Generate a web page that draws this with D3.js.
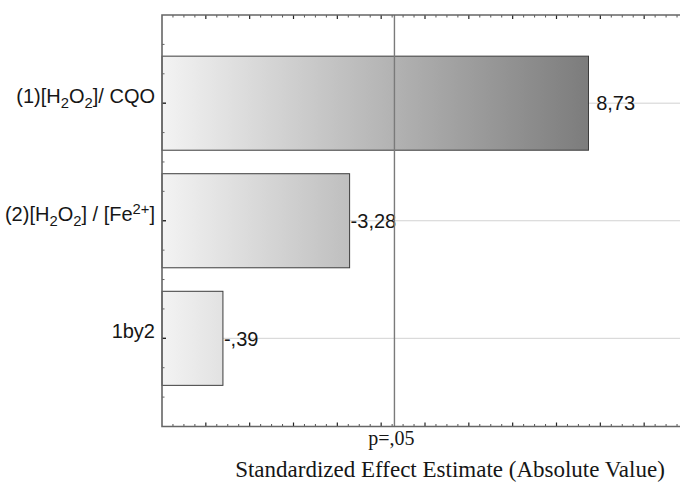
<!DOCTYPE html>
<html>
<head>
<meta charset="utf-8">
<script src="https://cdn.jsdelivr.net/npm/d3@7/dist/d3.min.js"></script>
<style>
  html, body { margin: 0; padding: 0; background: #fff; }
  svg { display: block; }
</style>
</head>
<body>
<svg id="chart" width="680" height="482"></svg>
<script>
// Pareto chart of standardized effects (absolute value)
const categories = ["(1)[H_2O_2]/ CQO", "(2)[H_2O_2] / [Fe^{2+}]", "1by2"];
const effects = [8.73, -3.28, -0.39];
const criticalT = 4.303;        // p = .05
const criticalLabel = "p=,05";
const axisTitle = "Standardized Effect Estimate (Absolute Value)";
const xDomain = [-1, 11];

const W = 680, H = 482;
const plot = { left: 162, top: 15, right: 688, bottom: 426.5 };
const sansSize = 20;

const svg = d3.select("#chart");

const x = d3.scaleLinear().domain(xDomain).range([plot.left, plot.right]);
const y = d3.scaleBand()
  .domain(categories)
  .range([plot.top, plot.bottom])
  .paddingInner(0.2)
  .paddingOuter(0.35);

// Statistica-style number text: comma decimal, no leading zero, ASCII minus
const fmt = v => {
  const s = Math.abs(v).toFixed(2).replace(".", ",").replace(/^0,/, ",");
  return (v < 0 ? "-" : "") + s;
};

// Gradient spans the whole plot width, so each bar darkens toward its end
const defs = svg.append("defs");
const grad = defs.append("linearGradient")
  .attr("id", "barGrad")
  .attr("gradientUnits", "userSpaceOnUse")
  .attr("x1", x(xDomain[0])).attr("x2", x(8.73))
  .attr("y1", 0).attr("y2", 0);
grad.append("stop").attr("offset", 0).attr("stop-color", "#f3f3f3");
grad.append("stop").attr("offset", 1).attr("stop-color", "#7c7c7c");

// Horizontal grid at category centres
svg.append("g")
  .selectAll("line")
  .data(categories)
  .join("line")
  .attr("x1", plot.left).attr("x2", W)
  .attr("y1", d => y(d) + y.bandwidth() / 2)
  .attr("y2", d => y(d) + y.bandwidth() / 2)
  .attr("stroke", "#d2d2d2")
  .attr("stroke-width", 1);

// Bars
svg.append("g")
  .selectAll("rect")
  .data(categories)
  .join("rect")
  .attr("x", x(xDomain[0]))
  .attr("y", d => y(d))
  .attr("width", (d, i) => x(Math.abs(effects[i])) - x(xDomain[0]))
  .attr("height", y.bandwidth())
  .attr("fill", "url(#barGrad)")
  .attr("stroke", "#3c3c3c")
  .attr("stroke-width", 1);

// Value labels (positive values leave room where the sign would sit)
svg.append("g")
  .selectAll("text")
  .data(categories)
  .join("text")
  .attr("x", (d, i) => x(Math.abs(effects[i])) + 1 + (effects[i] >= 0 ? sansSize * 0.333 : 0))
  .attr("y", d => y(d) + y.bandwidth() / 2)
  .attr("dy", "0.36em")
  .attr("font-family", "Liberation Sans, Arial, sans-serif")
  .attr("font-size", sansSize)
  .attr("fill", "#161616")
  .text((d, i) => fmt(effects[i]));

// Critical value line
svg.append("line")
  .attr("x1", x(criticalT)).attr("x2", x(criticalT))
  .attr("y1", plot.top).attr("y2", plot.bottom)
  .attr("stroke", "#7a7a7a")
  .attr("stroke-width", 1.4);

// Bottom and top axes: inward ticks, no labels
const major = d3.range(0, 11, 1);
const minor = d3.range(-0.75, 11, 0.25).filter(v => Math.abs(v - Math.round(v)) > 1e-9);

function ticks(g, yPos, dir) {
  g.selectAll("line.minor")
    .data(minor)
    .join("line")
    .attr("x1", d => x(d)).attr("x2", d => x(d))
    .attr("y1", yPos).attr("y2", yPos + dir * 2.5)
    .attr("stroke", "#555").attr("stroke-width", 1);
  g.selectAll("line.major")
    .data(major)
    .join("line")
    .attr("x1", d => x(d)).attr("x2", d => x(d))
    .attr("y1", yPos).attr("y2", yPos + dir * 4)
    .attr("stroke", "#222").attr("stroke-width", 1.2);
}
const axisG = svg.append("g");
ticks(axisG.append("g"), plot.bottom, -1);
ticks(axisG.append("g"), plot.top, 1);

// Left axis ticks: major at categories, minor at quarter steps
const step = y.step();
const leftStart = y(categories[0]) + y.bandwidth() / 2 - 0.75 * step;
const leftMinor = d3.range(1, 14).filter(k => (k - 3) % 4 !== 0).map(k => leftStart + k * step / 4);
axisG.append("g").selectAll("line")
  .data(leftMinor)
  .join("line")
  .attr("x1", plot.left).attr("x2", plot.left + 2.5)
  .attr("y1", d => d).attr("y2", d => d)
  .attr("stroke", "#666").attr("stroke-width", 1);
axisG.append("g").selectAll("line")
  .data(categories)
  .join("line")
  .attr("x1", plot.left).attr("x2", plot.left + 4)
  .attr("y1", d => y(d) + y.bandwidth() / 2)
  .attr("y2", d => y(d) + y.bandwidth() / 2)
  .attr("stroke", "#222").attr("stroke-width", 1.4);

// Frame: left, top, bottom
svg.append("path")
  .attr("d", `M${W},${plot.top}H${plot.left}V${plot.bottom}H${W}`)
  .attr("fill", "none")
  .attr("stroke", "#666")
  .attr("stroke-width", 1.6);

// Category labels with sub/superscripts
function richText(sel, str, size) {
  const parts = str.split(/(_\{[^}]*\}|_.|\^\{[^}]*\}|\^.)/).filter(s => s.length);
  let shift = 0;
  parts.forEach(p => {
    let kind = null, txt = p;
    if (p[0] === "_" || p[0] === "^") {
      kind = p[0];
      txt = p.slice(1).replace(/^\{|\}$/g, "");
    }
    const target = kind === "_" ? 5 : kind === "^" ? -7 : 0;
    const t = sel.append("tspan")
      .attr("dy", target - shift)
      .text(txt);
    if (kind) t.attr("font-size", size * 0.74);
    shift = target;
  });
  if (shift !== 0) sel.append("tspan").attr("dy", -shift).text("");
}

svg.append("g")
  .selectAll("text")
  .data(categories)
  .join("text")
  .attr("x", 155)
  .attr("y", d => y(d) + y.bandwidth() / 2)
  .attr("dy", "0.36em")
  .attr("text-anchor", "end")
  .attr("font-family", "Liberation Sans, Arial, sans-serif")
  .attr("font-size", sansSize)
  .attr("fill", "#161616")
  .each(function(d) { richText(d3.select(this), d, sansSize); });

// Critical value label and axis title
svg.append("text")
  .attr("x", x(criticalT) - 3)
  .attr("y", 445)
  .attr("text-anchor", "middle")
  .attr("font-family", "Liberation Serif, Times New Roman, serif")
  .attr("font-size", 20)
  .attr("fill", "#161616")
  .text(criticalLabel);

svg.append("text")
  .attr("x", 450)
  .attr("y", 477)
  .attr("text-anchor", "middle")
  .attr("font-family", "Liberation Serif, Times New Roman, serif")
  .attr("font-size", 23)
  .attr("fill", "#161616")
  .text(axisTitle);
</script>
</body>
</html>
